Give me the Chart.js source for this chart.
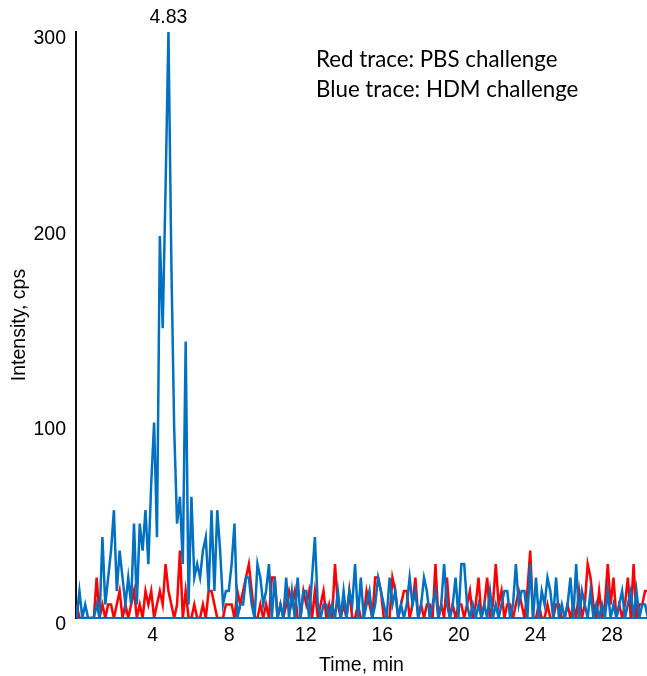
<!DOCTYPE html>
<html>
<head>
<meta charset="utf-8">
<title>Intensity chromatogram</title>
<script src="https://cdn.jsdelivr.net/npm/chart.js@4.4.1/dist/chart.umd.min.js"></script>
<style>
    body { margin: 0; background: #ffffff; }
    #chrom { display: block; }
</style>
</head>
<body>
<canvas id="chrom" width="647" height="676"></canvas>
<script>
// scan clock of the instrument (min)
var scanStart = 0.03;
var scanStep = 0.15;

// x ticks and y ticks
var timeTicks = [4, 8, 12, 16, 20, 24, 28];
var intensityTicks = [0, 100, 200, 300];

// Blue trace: HDM challenge (cps)
var hdmValues = [
    0, 13.8, 0, 6.9, 0, 0, 0, 6.9, 0, 41.4,
    6.9, 20.7, 34.5, 55.2, 13.8, 34.5, 20.7, 6.9, 20.7, 6.9,
    48.3, 6.9, 48.3, 34.5, 55.2, 27.6, 69, 100.1, 41.4, 195.5,
    148.4, 220.8, 300.3, 182.9, 96.6, 48.3, 62.1, 27.6, 141.5, 6.9,
    62.1, 20.7, 27.6, 20.7, 34.5, 41.4, 13.8, 55.2, 13.8, 55.2,
    34.5, 6.9, 13.8, 13.8, 27.6, 48.3, 0, 6.9, 6.9, 20.7,
    20.7, 6.9, 0, 27.6, 20.7, 6.9, 13.8, 27.6, 0, 20.7,
    0, 6.9, 0, 20.7, 0, 13.8, 0, 20.7, 0, 13.8,
    13.8, 0, 20.7, 41.4, 6.9, 0, 6.9, 6.9, 0, 6.9,
    0, 13.8, 0, 13.8, 0, 13.8, 6.9, 27.6, 0, 20.7,
    0, 6.9, 13.8, 0, 6.9, 20.7, 13.8, 6.9, 0, 20.7,
    6.9, 13.8, 0, 6.9, 0, 6.9, 20.7, 6.9, 13.8, 0,
    6.9, 20.7, 13.8, 0, 6.9, 13.8, 0, 6.9, 27.6, 6.9,
    0, 6.9, 20.7, 0, 27.6, 27.6, 6.9, 0, 6.9, 0,
    6.9, 0, 6.9, 0, 13.8, 0, 6.9, 0, 6.9, 13.8,
    13.8, 0, 6.9, 27.6, 6.9, 13.8, 13.8, 0, 27.6, 0,
    20.7, 0, 13.8, 6.9, 20.7, 13.8, 0, 20.7, 0, 6.9,
    0, 6.9, 20.7, 0, 27.6, 0, 13.8, 6.9, 0, 13.8,
    0, 6.9, 0, 6.9, 0, 13.8, 0, 6.9, 0, 6.9,
    13.8, 0, 6.9, 13.8, 0, 13.8, 0, 6.9, 6.9, 0
];

// Red trace: PBS challenge (cps)
var pbsValues = [
    6.9, 0, 0, 0, 0, 0, 0, 20.7, 0, 6.9,
    0, 6.9, 6.9, 0, 6.9, 13.8, 0, 6.9, 0, 6.9,
    13.8, 0, 6.9, 0, 13.8, 6.9, 13.8, 0, 6.9, 13.8,
    6.9, 27.6, 13.8, 6.9, 0, 6.9, 34.5, 0, 13.8, 0,
    0, 6.9, 0, 0, 6.9, 0, 13.8, 13.8, 6.9, 0,
    0, 0, 6.9, 6.9, 6.9, 0, 13.8, 6.9, 13.8, 20.7,
    27.6, 13.8, 0, 0, 6.9, 0, 6.9, 0, 20.7, 20.7,
    0, 6.9, 0, 6.9, 13.8, 6.9, 13.8, 0, 0, 13.8,
    6.9, 13.8, 0, 13.8, 0, 6.9, 13.8, 0, 6.9, 0,
    27.6, 6.9, 0, 6.9, 0, 13.8, 0, 0, 6.9, 0,
    0, 13.8, 6.9, 0, 20.7, 20.7, 13.8, 0, 0, 0,
    20.7, 13.8, 0, 6.9, 13.8, 13.8, 0, 6.9, 20.7, 0,
    6.9, 0, 6.9, 6.9, 0, 27.6, 0, 6.9, 0, 20.7,
    0, 6.9, 0, 6.9, 6.9, 0, 6.9, 13.8, 0, 6.9,
    20.7, 0, 6.9, 20.7, 0, 6.9, 27.6, 6.9, 13.8, 0,
    6.9, 6.9, 0, 6.9, 13.8, 6.9, 0, 13.8, 34.5, 0,
    0, 6.9, 0, 0, 6.9, 0, 0, 6.9, 6.9, 0,
    0, 6.9, 0, 6.9, 0, 13.8, 0, 6.9, 27.6, 20.7,
    6.9, 0, 13.8, 0, 6.9, 27.6, 6.9, 20.7, 0, 6.9,
    0, 6.9, 20.7, 0, 27.6, 0, 6.9, 6.9, 13.8, 13.8
];

var peakTime = 4.83;
var noteLines = ["Red trace: PBS challenge", "Blue trace: HDM challenge"];

//pair each value with its scan time
function toPoints(values)
{
    var pts = [];
    for(var i = 0; i < values.length; i++)
    {
        pts.push({ x: +(scanStart + i * scanStep).toFixed(2), y: values[i] });
    }
    return pts;
}

//draws the peak label and the note in the top right corner
var annotations = {
    id: "annotations",
    afterDatasetsDraw: function(chart)
    {
        var ctx = chart.ctx;
        var xs = chart.scales.x;
        var ys = chart.scales.y;
        ctx.save();
        ctx.fillStyle = "#000000";
        ctx.font = "19.5px 'Liberation Sans', Arial, sans-serif";
        ctx.textAlign = "center";
        ctx.textBaseline = "middle";
        ctx.fillText(peakTime.toFixed(2), xs.getPixelForValue(peakTime), ys.getPixelForValue(300) - 14);

        ctx.font = "22.3px Lato, 'Open Sans', sans-serif";
        ctx.textAlign = "left";
        ctx.fillText(noteLines[0], 316, 60);
        ctx.fillText(noteLines[1], 316, 90);
        ctx.restore();
    }
};

var tickFont = { family: "'Liberation Sans', Arial, sans-serif", size: 19.5 };

var chromChart = new Chart(document.getElementById("chrom"), {
    type: "line",
    data: {
        datasets: [
            {
                label: "HDM challenge",
                data: toPoints(hdmValues),
                borderColor: "#0070C0",
                borderWidth: 2.5,
                pointRadius: 0,
                tension: 0
            },
            {
                label: "PBS challenge",
                data: toPoints(pbsValues),
                borderColor: "#FF0000",
                borderWidth: 2.5,
                pointRadius: 0,
                tension: 0
            }
        ]
    },
    options: {
        responsive: false,
        animation: false,
        events: [],
        layout: { padding: { top: 32, right: 0, bottom: 0, left: 0 } },
        plugins: {
            legend: { display: false },
            tooltip: { enabled: false }
        },
        scales: {
            x: {
                type: "linear",
                min: 0,
                max: 29.83,
                afterFit: function(scale) { scale.height = 58; },
                afterBuildTicks: function(scale) {
                    scale.ticks = timeTicks.map(function(v) { return { value: v }; });
                },
                grid: { display: false, drawTicks: false },
                border: { display: true, color: "#0070C0", width: 2 },
                ticks: { color: "#000000", font: tickFont, padding: 6, maxRotation: 0 },
                title: {
                    display: true,
                    text: "Time, min",
                    color: "#000000",
                    font: tickFont,
                    padding: { top: 0, bottom: -1 }
                }
            },
            y: {
                min: 0,
                max: 300,
                afterFit: function(scale) { scale.width = 76; },
                afterBuildTicks: function(scale) {
                    scale.ticks = intensityTicks.map(function(v) { return { value: v }; });
                },
                grid: { display: false, drawTicks: false },
                border: { display: true, color: "#111111", width: 2 },
                ticks: { color: "#000000", font: tickFont, padding: 10, labelOffset: 7 },
                title: {
                    display: true,
                    text: "Intensity, cps",
                    color: "#000000",
                    font: tickFont,
                    padding: { top: 8, bottom: 0 }
                }
            }
        }
    },
    plugins: [annotations]
});
</script>
</body>
</html>
